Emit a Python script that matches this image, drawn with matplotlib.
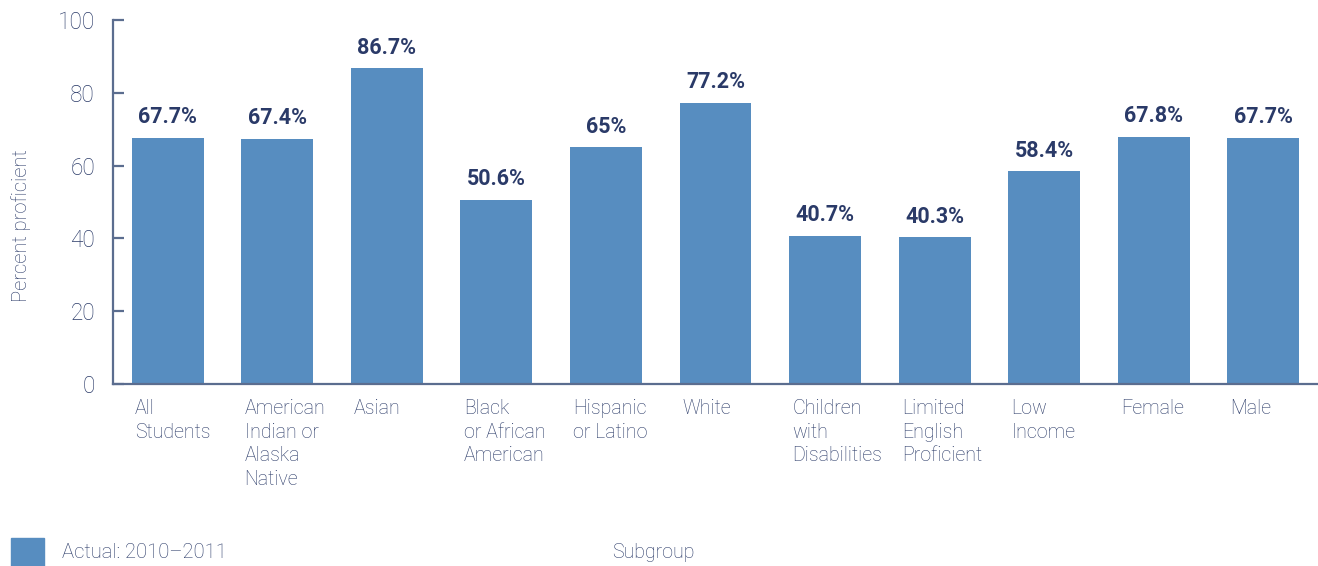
import matplotlib
matplotlib.use("Agg")
import matplotlib.pyplot as plt
from matplotlib.patches import Rectangle
import matplotlib.transforms as mtransforms

categories = [
    "All\nStudents",
    "American\nIndian or\nAlaska\nNative",
    "Asian",
    "Black\nor African\nAmerican",
    "Hispanic\nor Latino",
    "White",
    "Children\nwith\nDisabilities",
    "Limited\nEnglish\nProficient",
    "Low\nIncome",
    "Female",
    "Male",
]
values = [67.7, 67.4, 86.7, 50.6, 65, 77.2, 40.7, 40.3, 58.4, 67.8, 67.7]
value_labels = ["67.7%", "67.4%", "86.7%", "50.6%", "65%", "77.2%",
                "40.7%", "40.3%", "58.4%", "67.8%", "67.7%"]
yticks = [0, 20, 40, 60, 80, 100]

bar_color = "#578dc0"
text_color = "#2a3a68"
axis_color = "#5b6d8f"
font = ["Roboto", "DejaVu Sans"]

plt.rcParams["font.family"] = font

fig = plt.figure(figsize=(13.18, 5.66), dpi=100)
ax = fig.add_axes([113 / 1318, 1 - 384 / 566, 1 - 113 / 1318, (384 - 20) / 566])

x = list(range(len(values)))
bar_w = 0.657
ax.bar(x, values, width=bar_w, color=bar_color, zorder=2)

ax.set_xlim(-0.5, len(values) - 0.5)
ax.set_ylim(0, 100)

for side in ("top", "right"):
    ax.spines[side].set_visible(False)
for side in ("left", "bottom"):
    ax.spines[side].set_color(axis_color)
    ax.spines[side].set_linewidth(1.6)

ax.set_yticks(yticks)
ax.set_yticklabels([str(t) for t in yticks])
ax.tick_params(axis="y", direction="in", length=8, width=1.6, color=axis_color,
               labelcolor=text_color, labelsize=16.3, pad=13)
for lbl in ax.get_yticklabels():
    lbl.set_fontweight("light")
ax.set_xticks([])

ax.set_ylabel("Percent proficient", fontsize=14.5, color=text_color,
              fontweight="light")
ax.yaxis.set_label_coords(-0.068, 0.434)

# value labels above bars
for xi, v, lab in zip(x, values, value_labels):
    ax.annotate(lab, (xi, v), xytext=(0, 7), textcoords="offset points",
                ha="center", va="bottom", fontsize=15.5, fontweight="bold",
                color=text_color)

# category labels, left-aligned under each bar
trans = mtransforms.blended_transform_factory(ax.transData, ax.transAxes)
for xi, cat in zip(x, categories):
    ax.text(xi - bar_w / 2 + 0.03, -0.042, cat, transform=trans, ha="left",
            va="top", fontsize=14.1, fontweight="light", color=text_color,
            linespacing=1.3)

# legend and axis title along the bottom
fig.patches.append(Rectangle((11 / 1318, 0), 33 / 1318, 28 / 566,
                             transform=fig.transFigure, color=bar_color))
fig.text(62 / 1318, 1 - 553 / 566, "Actual: 2010\u20132011", ha="left",
         va="center", fontsize=14.6, fontweight="light", color=text_color)
fig.text(653 / 1318, 1 - 553 / 566, "Subgroup", ha="center", va="center",
         fontsize=14.1, fontweight="light", color=text_color)

fig.savefig("out.png", dpi=100)
